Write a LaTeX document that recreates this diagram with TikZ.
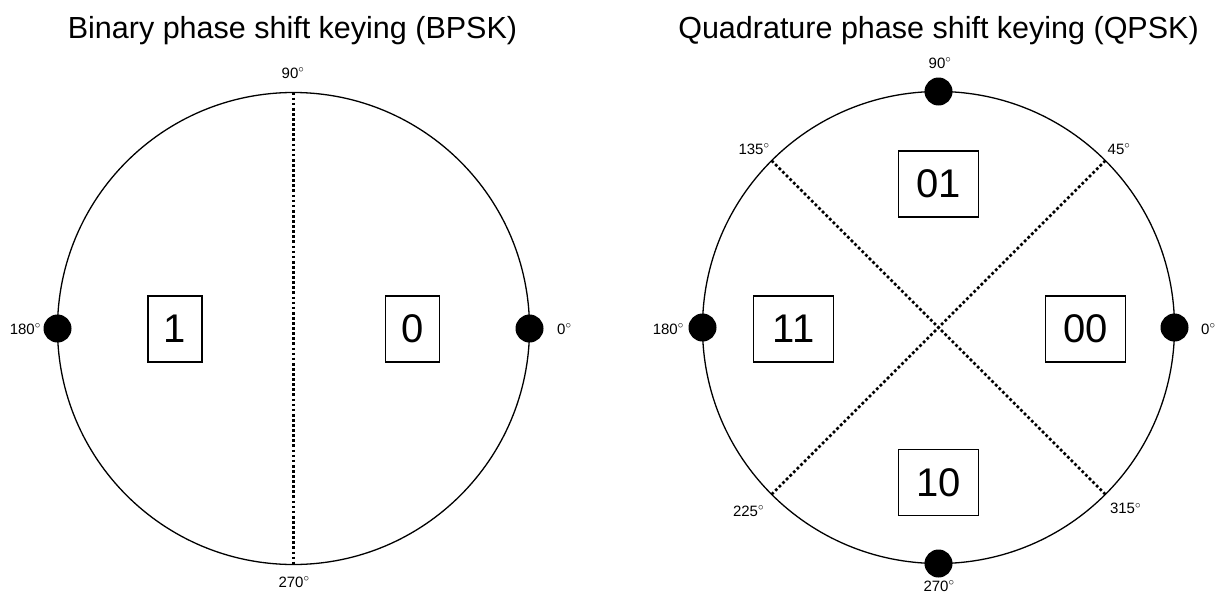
\documentclass[tikz,border=0pt]{standalone}
\usepackage{fontspec}
\setmainfont{Liberation Sans}
\begin{document}
\begin{tikzpicture}[x=1pt,y=-1pt,
  wheel/.style={circle,draw,line width=1.3pt,minimum size=472pt,inner sep=0pt,outer sep=0pt},
  symdot/.style={circle,fill=black,minimum size=28pt,inner sep=0pt},
  bitbox/.style={draw,line width=1.2pt,minimum height=66pt,inner sep=0pt,font=\fontsize{40}{48}\selectfont},
  deg/.style={inner sep=0pt,font=\fontsize{15}{18}\selectfont},
  title/.style={inner sep=0pt,anchor=base,font=\fontsize{30.5}{36}\selectfont},
  divider/.style={line width=2.7pt,dash pattern=on 2.7pt off 2.4pt}]
\useasboundingbox (0,0) rectangle (1217,594);

% ---- BPSK ----
\node[title] (tb) at (292.5,39) {Binary phase shift keying (BPSK)};
\node[wheel] (L) at (293.5,328.5) {};
\draw[divider] (L.90) -- (L.270);
\node[symdot] (L0) at (L.0) {};
\node[symdot] (L180) at (L.180) {};
\node[bitbox,minimum width=54pt] (b1) at (175,329) {1};
\node[bitbox,minimum width=54pt] (b0) at (412.5,329) {0};
\node[deg] (lt) at (293,73) {90$^\circ$};
\node[deg] (lb) at (294,582) {270$^\circ$};
\node[deg,anchor=east] (ll) at (41,329) {180$^\circ$};
\node[deg,anchor=west] (lr) at (557,329) {0$^\circ$};

% ---- QPSK ----
\node[title] (tq) at (938.5,39) {Quadrature phase shift keying (QPSK)};
\node[wheel] (R) at (938.5,327.5) {};
\draw[divider] (R.135) -- (R.315);
\draw[divider] (R.45) -- (R.225);
\node[symdot] (R0) at (R.0) {};
\node[symdot] (R90) at (R.90) {};
\node[symdot] (R180) at (R.180) {};
\node[symdot] (R270) at (R.270) {};
\node[bitbox,minimum width=80pt] (q01) at (938.5,184) {01};
\node[bitbox,minimum width=80pt] (q10) at (938.5,482.5) {10};
\node[bitbox,minimum width=80pt] (q11) at (793.5,329) {11};
\node[bitbox,minimum width=80pt] (q00) at (1085.5,329) {00};
\node[deg] (rt) at (940,63) {90$^\circ$};
\node[deg] (rb) at (939,586) {270$^\circ$};
\node[deg,anchor=east] (rl) at (684,329) {180$^\circ$};
\node[deg,anchor=west] (rr) at (1201,329) {0$^\circ$};
\node[deg] (r135) at (754,149) {135$^\circ$};
\node[deg] (r45) at (1119,149) {45$^\circ$};
\node[deg] (r225) at (748.5,511) {225$^\circ$};
\node[deg] (r315) at (1125.5,508.5) {315$^\circ$};
\end{tikzpicture}
\end{document}
